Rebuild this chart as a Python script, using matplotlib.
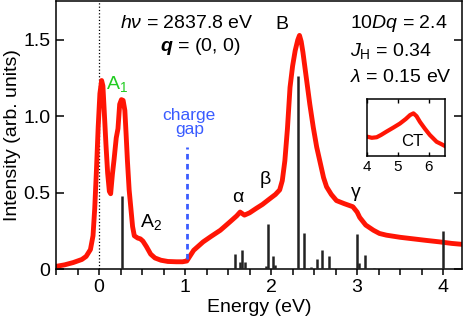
import matplotlib
matplotlib.use('Agg')
import matplotlib.pyplot as plt

plt.rcParams['font.family'] = ['Liberation Sans', 'DejaVu Sans']
plt.rcParams['mathtext.fontset'] = 'custom'
plt.rcParams['mathtext.rm'] = 'Liberation Sans'
plt.rcParams['mathtext.it'] = 'Liberation Sans:italic'
plt.rcParams['mathtext.bf'] = 'Liberation Sans:bold'
plt.rcParams['mathtext.bfit'] = 'Liberation Sans:bold:italic'

# measured RIXS spectrum
energy = [-0.5, -0.4, -0.3, -0.2, -0.15, -0.1, -0.07, -0.05, -0.03, -0.01,
          0.01, 0.03, 0.045, 0.06, 0.08, 0.10, 0.12, 0.135, 0.155, 0.175,
          0.20, 0.22, 0.24, 0.26, 0.28, 0.30, 0.315, 0.33, 0.35, 0.37,
          0.39, 0.41, 0.45, 0.48, 0.51, 0.55, 0.60, 0.65, 0.72, 0.80,
          0.90, 0.97, 1.02, 1.06, 1.10, 1.15, 1.21, 1.30, 1.41, 1.52,
          1.60, 1.64, 1.69, 1.75, 1.83, 1.90, 1.98, 2.05, 2.10, 2.13,
          2.16, 2.19, 2.22, 2.25, 2.28, 2.31, 2.33, 2.35, 2.37, 2.41,
          2.45, 2.49, 2.53, 2.57, 2.61, 2.645, 2.70, 2.76, 2.85, 2.95,
          3.00, 3.03, 3.10, 3.19, 3.26, 3.34, 3.50, 3.65, 3.80, 3.96,
          4.10, 4.20]
intensity = [0.02, 0.03, 0.045, 0.065, 0.085, 0.13, 0.22, 0.40, 0.65, 0.93,
             1.15, 1.235, 1.2, 1.04, 0.82, 0.63, 0.51, 0.495, 0.62, 0.72,
             0.86, 0.92, 1.08, 1.11, 1.105, 1.04, 0.88, 0.71, 0.52, 0.40,
             0.28, 0.22, 0.205, 0.20, 0.185, 0.15, 0.10, 0.075, 0.06, 0.052,
             0.05, 0.05, 0.055, 0.09, 0.125, 0.15, 0.18, 0.215, 0.256, 0.31,
             0.35, 0.375, 0.355, 0.37, 0.40, 0.425, 0.46, 0.49, 0.52, 0.58,
             0.71, 0.92, 1.19, 1.33, 1.43, 1.50, 1.53, 1.49, 1.42, 1.25,
             1.08, 0.93, 0.80, 0.70, 0.60, 0.54, 0.49, 0.45, 0.43, 0.41,
             0.375, 0.34, 0.29, 0.256, 0.235, 0.224, 0.21, 0.20, 0.19, 0.18,
             0.17, 0.165]

# calculated multiplet transitions
stick_e = [0.27, 1.58, 1.64, 1.66, 1.70, 1.94, 1.96, 2.02, 2.04, 2.315,
           2.385, 2.46, 2.535, 2.59, 2.675, 3.00, 3.02, 3.09, 3.195, 4.00]
stick_i = [0.478, 0.098, 0.05, 0.126, 0.05, 0.02, 0.30, 0.089, 0.03, 1.267,
           0.24, 0.015, 0.07, 0.13, 0.087, 0.23, 0.04, 0.093, 0.01, 0.25]

# charge-transfer region (inset)
ct_e = [4.0, 4.15, 4.31, 4.45, 4.63, 4.85, 5.06, 5.25, 5.39, 5.5, 5.6, 5.71, 5.87, 6.03, 6.25, 6.4, 6.52]
ct_i = [0.34, 0.32, 0.33, 0.37, 0.43, 0.50, 0.57, 0.65, 0.72, 0.75, 0.70, 0.60, 0.48, 0.37, 0.25, 0.21, 0.175]

gap_e = 1.02

fig = plt.figure(figsize=(4.63, 3.25), dpi=100)
ax = fig.add_axes([0.121, 0.171, 0.877, 0.826])

ax.axvline(0, color='black', ls=':', lw=0.9, zorder=1)
ax.plot(energy, intensity, color='#ff1505', lw=3.5, zorder=2, solid_joinstyle='round')
ax.vlines(stick_e, 0, stick_i, color='#222222', lw=1.8, zorder=3)
ax.plot([gap_e, gap_e], [0.07, 0.80], color='#3a5cff', lw=2.0, ls=(0, (2, 1.6)), zorder=3)

ax.set_xlim(-0.5, 4.22)
ax.set_ylim(0, 1.755)
ax.set_xticks([0, 1, 2, 3, 4])
ax.set_xticks([x / 4 for x in range(-2, 17)], minor=True)
ax.set_yticks([0, 0.5, 1.0, 1.5])
ax.set_yticklabels(['0', '0.5', '1.0', '1.5'])
ax.tick_params(axis='x', which='both', direction='out', length=4, width=1.1, labelsize=14, pad=3)
ax.tick_params(axis='y', which='both', direction='in', length=6, width=1.1, labelsize=14, right=True, pad=4)
for s in ax.spines.values():
    s.set_linewidth(1.1)
ax.set_xlabel('Energy (eV)', fontsize=14, labelpad=2)
ax.set_ylabel('Intensity (arb. units)', fontsize=14, labelpad=2)

ax.text(1.02, 1.61, r'$h\nu$ = 2837.8 eV', fontsize=14, ha='center', va='center')
ax.text(1.18, 1.46, r'$\mathbfit{q}$ = (0, 0)', fontsize=14, ha='center', va='center')
ax.text(0.21, 1.21, r'A$_1$', fontsize=14, color='#22cc22', ha='center', va='center')
ax.text(0.60, 0.31, r'A$_2$', fontsize=14, ha='center', va='center')
ax.text(1.05, 0.96, 'charge\ngap', fontsize=12.5, color='#3a5cff', ha='center', va='center', linespacing=0.95)
ax.text(1.61, 0.47, 'α', fontsize=14, ha='center', va='center')
ax.text(1.93, 0.59, 'β', fontsize=14, ha='center', va='center')
ax.text(2.13, 1.60, 'B', fontsize=14, ha='center', va='center')
ax.text(2.98, 0.50, 'γ', fontsize=14, ha='center', va='center')
ax.text(2.92, 1.607, r'10$Dq$ = 2.4', fontsize=14, ha='left', va='center')
ax.text(2.92, 1.43, r'$J_{\rm H}$ = 0.34', fontsize=14, ha='left', va='center')
ax.text(2.92, 1.255, r'$\lambda$ = 0.15 eV', fontsize=14, ha='left', va='center')

ins = fig.add_axes([0.793, 0.52, 0.168, 0.175])
ins.plot(ct_e, ct_i, color='#ff1505', lw=3.0)
ins.set_xlim(4, 6.52)
ins.set_ylim(0, 1)
ins.set_xticks([4, 5, 6])
ins.set_yticks([])
ins.tick_params(axis='x', direction='in', length=3, width=1.0, top=True, labelsize=11, pad=3)
for s in ins.spines.values():
    s.set_linewidth(1.1)
ins.text(5.45, 0.25, 'CT', fontsize=12, ha='center', va='center')

fig.savefig('out.png', dpi=100)
